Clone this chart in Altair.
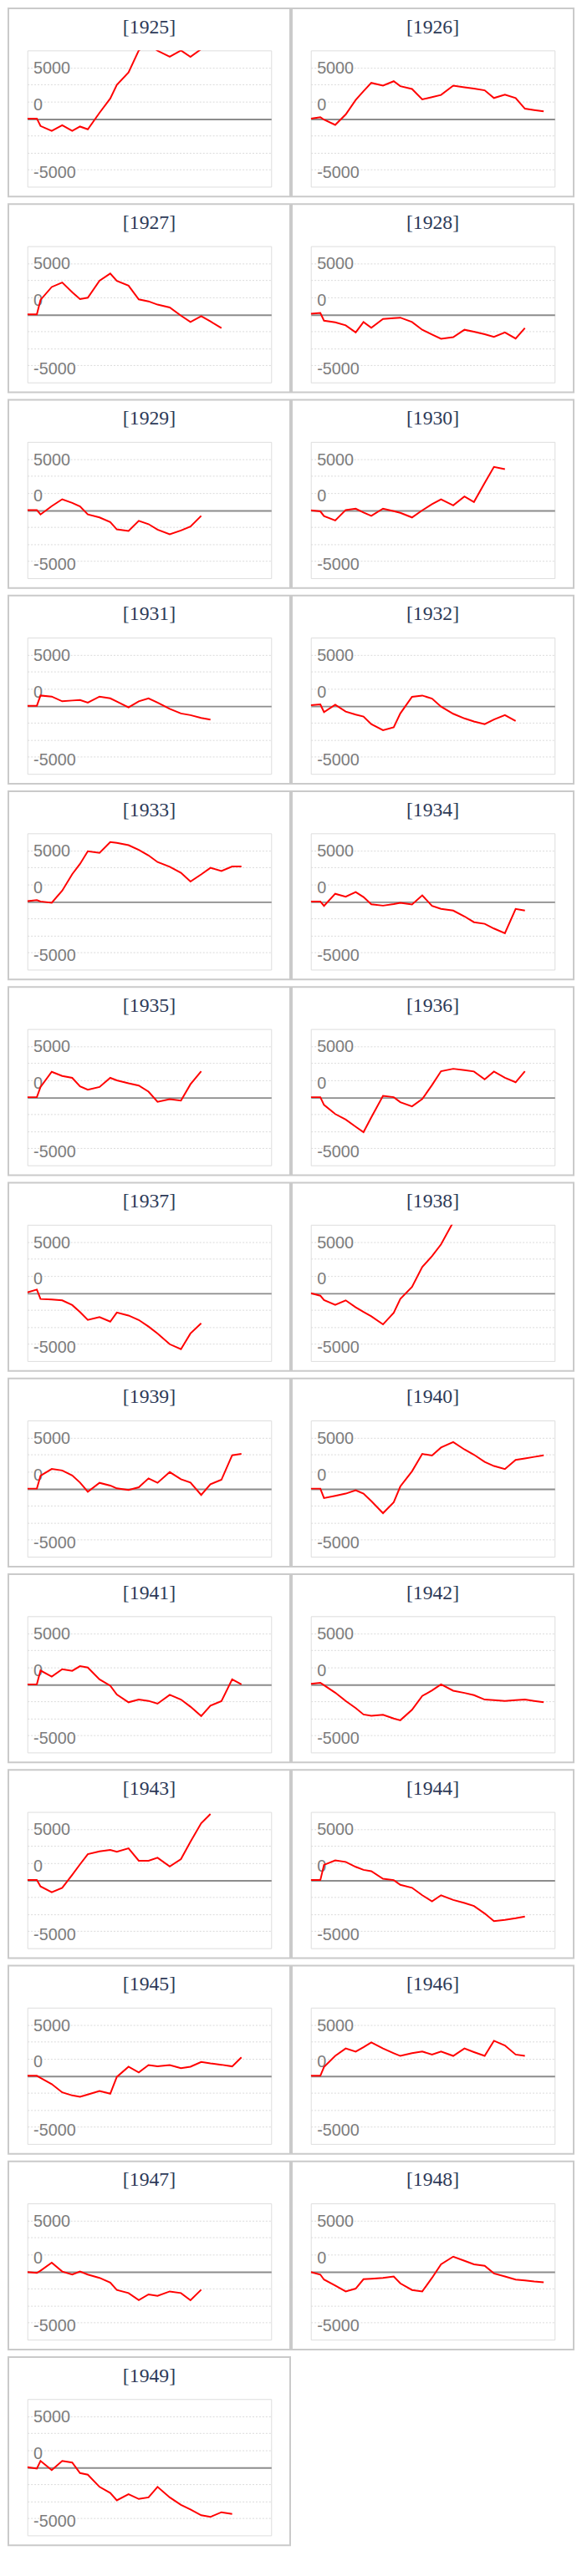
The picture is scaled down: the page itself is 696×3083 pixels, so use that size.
import altair as alt
import pandas as pd

YEARS = list(range(1925, 1950))

# horizontal positions of the sample points (percent of the plot width)
X_POS = [0, 3.9, 5.4, 10.0, 14.3, 18.4, 21.6, 24.8, 29.6, 34.0, 36.7, 41.5, 45.7,
         49.7, 53.4, 58.4, 63.0, 66.9, 71.3, 75.1, 79.6, 84.0, 87.8, 91.6, 95.5]

V1925 = [0, 0, -1090, -1800, -970, -1800, -1170, -1570, 850, 2940, 4960, 6770, 10000,
         11000, 9950, 9070, 10000, 9070, 10200, 11000]
V1926 = [0, 200, -160, -930, 600, 2740, 4030, 5240, 4840, 5480, 4760, 4350, 2820,
         3150, 3470, 4840, 4600, 4400, 4150, 3020, 3510, 3020, 1450, 1250, 1050]
V1927 = [0, 0, 2110, 4010, 4660, 3240, 2230, 2430, 4940, 5990, 4900, 4210, 2190,
         1900, 1420, 1010, -200, -1130, -280, -1050, -2030]
V1928 = [80, 200, -930, -1180, -1620, -2670, -1130, -1990, -690, -570, -490, -1130,
         -2270, -2960, -3600, -3360, -2270, -2550, -2920, -3320, -2670, -3560, -2030]
V1929 = [0, 0, -650, 570, 1580, 1050, 530, -650, -1090, -1780, -2840, -3080, -1580,
         -2070, -2880, -3560, -3000, -2430, -850]
V1930 = [-40, -200, -890, -1540, 0, 200, -370, -850, 200, -160, -410, -1090, -40,
         850, 1580, 690, 1990, 1180, 3970, 6320, 5990]
V1931 = [0, 0, 1500, 1340, 650, 770, 850, 450, 1340, 1090, 610, -240, 650, 1090,
         450, -450, -1130, -1380, -1780, -2030]
V1932 = [80, 200, -930, 160, -850, -1300, -1580, -2710, -3600, -3160, -1130, 1300,
         1500, 1050, -120, -1180, -1860, -2310, -2710, -2030, -1380, -2230]
V1933 = [40, 200, 0, -200, 1580, 4010, 5510, 7370, 7130, 8710, 8590, 8260, 7570,
         6760, 5790, 5100, 4210, 2920, 3970, 4940, 4460, 5140, 5140]
V1934 = [0, 0, -650, 1130, 690, 1380, 650, -410, -610, -370, -200, -450, 890, -650,
         -1090, -1340, -2190, -3040, -3280, -3970, -4660, -1090, -1340]
V1935 = [0, 0, 1500, 3730, 3120, 2840, 1580, 1090, 1500, 2840, 2470, 2030, 1700, 810,
         -690, -280, -490, 1900, 3810]
V1936 = [0, 0, -1130, -2470, -3280, -4330, -5140, -2960, 200, 0, -730, -1340, -280,
         1780, 3810, 4170, 3970, 3770, 2630, 3770, 2840, 2190, 3810]
V1937 = [80, 490, -890, -970, -1090, -1780, -2800, -3970, -3560, -4210, -2880, -3320,
         -3970, -4940, -5950, -7530, -8260, -5950, -4460]
V1938 = [-40, -410, -1050, -1740, -1090, -2110, -2800, -3440, -4620, -2920, -890, 890,
         3810, 5390, 7130, 10400]
V1939 = [0, 0, 1900, 2880, 2670, 1940, 890, -450, 850, 450, 40, -200, 200, 1500, 850,
         2430, 1380, 890, -930, 650, 1300, 4900, 5100]
V1940 = [0, 0, -1380, -1050, -730, -240, -730, -1820, -3600, -1990, 320, 2550, 5100,
         4860, 6030, 6840, 5750, 4980, 3930, 3320, 2880, 4210, 4430, 4660, 4900]
V1941 = [0, 0, 2030, 1130, 2230, 1990, 2670, 2470, 730, -200, -1500, -2630, -2230,
         -2430, -2840, -1540, -2230, -3280, -4660, -3120, -2470, 730, 0]
V1942 = [80, 240, -120, -1220, -2430, -3480, -4420, -4620, -4460, -5020, -5270, -3730,
         -1700, -890, 0, -930, -1260, -1580, -2230, -2310, -2430, -2310, -2230, -2430,
         -2630]
V1943 = [0, 0, -930, -1780, -1130, 770, 2310, 3810, 4210, 4420, 4170, 4660, 2840,
         2840, 3280, 1990, 3080, 5630, 8340, 9700]
V1944 = [0, 0, 2230, 2880, 2670, 1940, 1500, 1300, 200, 0, -690, -1130, -2230, -3120,
         -2230, -2920, -3360, -3810, -4900, -6030, -5830, -5590, -5350]
V1945 = [0, 0, -320, -1220, -2430, -2880, -3080, -2750, -2230, -2630, -160, 1340, 490,
         1580, 1380, 1580, 1130, 1340, 2030, 1820, 1620, 1380, 2710]
V1946 = [0, 0, 1300, 2920, 4010, 3560, 4210, 4900, 4010, 3320, 2920, 3320, 3560, 3120,
         3560, 2920, 4010, 3480, 2920, 5140, 4460, 3120, 2920]
V1947 = [-80, -200, 120, 1300, 0, -450, 0, -450, -930, -1620, -2710, -3160, -4210,
         -3360, -3560, -2920, -3160, -4210, -2670]
V1948 = [-80, -450, -1180, -2070, -2920, -2510, -1130, -1050, -930, -730, -1740,
         -2710, -2920, -930, 1050, 2190, 1580, 1050, 850, -280, -730, -1180, -1300,
         -1460, -1580]
V1949 = [0, -200, 930, -410, 930, 690, -850, -1090, -2880, -3770, -4860, -3970, -4660,
         -4420, -2880, -4420, -5510, -6200, -7050, -7290, -6600, -6850]

SERIES = [V1925, V1926, V1927, V1928, V1929, V1930, V1931, V1932, V1933, V1934,
          V1935, V1936, V1937, V1938, V1939, V1940, V1941, V1942, V1943, V1944,
          V1945, V1946, V1947, V1948, V1949]

Y_DOMAIN = [-10000, 10000]
Y_GRID = [-7500, -5000, -2500, 0, 2500, 5000, 7500]
Y_LABELS = {7500: "5000", 2500: "0", -7500: "-5000"}

label_expr = " : ".join(
    f"datum.value == {k} ? '{t}'" for k, t in Y_LABELS.items()
) + " : ''"

W, H = 295, 165

y_axis = alt.Axis(
    values=Y_GRID,
    labelExpr=label_expr,
    ticks=False,
    tickSize=0,
    domain=False,
    title=None,
    labelAlign="left",
    labelBaseline="alphabetic",
    labelPadding=-7,
    labelOffset={"condition": {"test": "datum.value === 7500", "value": 7},
                 "value": 10},
    labelFontSize=20,
    labelFont="Liberation Sans",
    labelColor="#7c7c7c",
    labelOverlap=False,
    grid=True,
    gridColor={"condition": {"test": "datum.value === 0", "value": "#8c8c8c"},
               "value": "#dadada"},
    gridWidth={"condition": {"test": "datum.value === 0", "value": 2},
               "value": 1},
    gridDash={"condition": {"test": "datum.value === 0", "value": []},
              "value": [2, 2]},
)


def panel(year, values):
    df = pd.DataFrame({
        "i": list(range(len(values))),
        "x": X_POS[:len(values)],
        "v": values,
        "title": [f"[{year}]"] * len(values),
    })
    base = alt.Chart(df)
    line = base.mark_line(color="#ff0000", strokeWidth=2, clip=True).encode(
        x=alt.X("x:Q", scale=alt.Scale(domain=[0, 100]), axis=None),
        y=alt.Y("v:Q", scale=alt.Scale(domain=Y_DOMAIN, nice=False), axis=y_axis),
        order="i:Q",
    )
    box = base.transform_filter("datum.i === 0").mark_rect(
        fillOpacity=0, stroke="#cacaca", strokeWidth=2, clip=False
    ).encode(
        x=alt.value(-23), x2=alt.value(W + 23),
        y=alt.value(-51), y2=alt.value(H + 12),
    )
    title = base.transform_filter("datum.i === 0").mark_text(
        font="Liberation Serif", fontSize=24, color="#2d3a58",
        align="center", baseline="alphabetic", clip=False
    ).encode(
        text="title:N",
        x=alt.value(W / 2),
        y=alt.value(-21),
    )
    return alt.layer(line, box, title).properties(width=W, height=H)


panels = [panel(y, v) for y, v in zip(YEARS, SERIES)]

chart = alt.concat(
    *panels, columns=2, spacing={"row": 72, "column": 48}, bounds="flush"
).properties(
    padding={"top": -18, "left": 0, "right": 0, "bottom": 0},
    background="white",
).configure_view(
    stroke="#bdbdbd", strokeWidth=2
).configure(
    font="Liberation Sans"
)

chart.save("out.html", embed_options={"renderer": "svg", "actions": False})
